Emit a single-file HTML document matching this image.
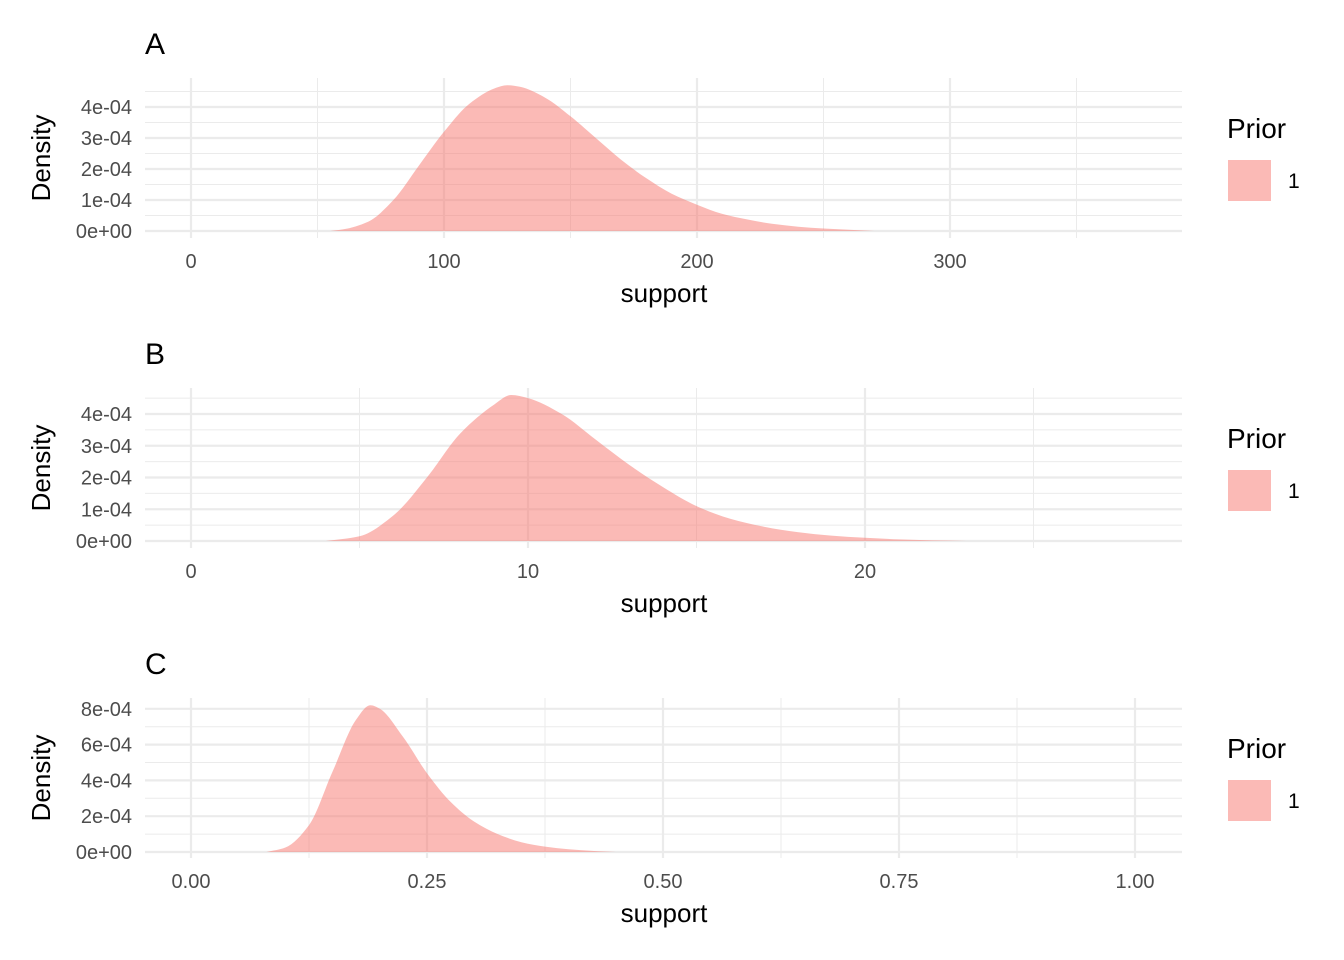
<!DOCTYPE html>
<html><head><meta charset="utf-8"><style>
html,body{margin:0;padding:0;background:#fff;}
svg{display:block;font-family:"Liberation Sans",Arial,sans-serif;}
</style></head><body>
<svg id="chart" width="1344" height="960" viewBox="0 0 1344 960"></svg>
<script>
// Panel A data
const aX = [55,60,70,80,90,100,110,120,125,130,140,150,160,170,180,190,200,210,220,230,240,250,260,270];
const aY = [0,0.05,0.3,1.0,2.1,3.2,4.1,4.6,4.7,4.65,4.3,3.7,3.0,2.3,1.7,1.2,0.85,0.55,0.37,0.23,0.14,0.08,0.04,0];
const aXTicks = [0,100,200,300];
const aXLabels = ["0","100","200","300"];
const aYTicks = [0,1,2,3,4];
const aYLabels = ["0e+00","1e-04","2e-04","3e-04","4e-04"];
// Panel B data
const bX = [4,5,6,7,8,9,9.5,10,11,12,13,14,15,16,17,18,19,20,21,22,23];
const bY = [0,0.15,0.8,2.0,3.4,4.3,4.6,4.5,4.0,3.2,2.4,1.7,1.1,0.7,0.45,0.28,0.17,0.1,0.05,0.02,0];
const bXTicks = [0,10,20];
const bXLabels = ["0","10","20"];
const bYTicks = [0,1,2,3,4];
const bYLabels = ["0e+00","1e-04","2e-04","3e-04","4e-04"];
// Panel C data
const cX = [0.08,0.1,0.125,0.15,0.175,0.19,0.2,0.225,0.25,0.275,0.3,0.325,0.35,0.375,0.4,0.425,0.45];
const cY = [0,0.25,1.5,4.5,7.4,8.2,8.0,6.4,4.4,2.8,1.7,1.0,0.55,0.3,0.15,0.06,0];
const cXTicks = [0,0.25,0.5,0.75,1.0];
const cXLabels = ["0.00","0.25","0.50","0.75","1.00"];
const cYTicks = [0,2,4,6,8];
const cYLabels = ["0e+00","2e-04","4e-04","6e-04","8e-04"];

const NS="http://www.w3.org/2000/svg";
const svg=document.getElementById('chart');
function mk(tag,attrs,parent){const e=document.createElementNS(NS,tag);for(const k in attrs)e.setAttribute(k,attrs[k]);(parent||svg).appendChild(e);return e;}

function monotonePath(px,py){
 const n=px.length, m=new Array(n), dl=[];
 for(let i=0;i<n-1;i++)dl.push((py[i+1]-py[i])/(px[i+1]-px[i]));
 m[0]=dl[0]; m[n-1]=dl[n-2];
 for(let i=1;i<n-1;i++){ if(dl[i-1]*dl[i]<=0)m[i]=0; else m[i]=2/(1/dl[i-1]+1/dl[i]); }
 let d='';
 for(let i=0;i<n-1;i++){
  const h=px[i+1]-px[i];
  d+=' C'+(px[i]+h/3).toFixed(1)+','+(py[i]+m[i]*h/3).toFixed(1)+' '+(px[i+1]-h/3).toFixed(1)+','+(py[i+1]-m[i+1]*h/3).toFixed(1)+' '+px[i+1].toFixed(1)+','+py[i+1].toFixed(1);
 }
 return d;
}

const panels=[
 {t:"A",xs:aX,ys:aY,xt:aXTicks,xl:aXLabels,yt:aYTicks,yl:aYLabels,x0:191,xPer:2.53,y0:231,yPer:31,top:78,bot:238,minorX:50,minorY:0.5},
 {t:"B",xs:bX,ys:bY,xt:bXTicks,xl:bXLabels,yt:bYTicks,yl:bYLabels,x0:191,xPer:33.7,y0:541,yPer:31.75,top:388,bot:548,minorX:5,minorY:0.5},
 {t:"C",xs:cX,ys:cY,xt:cXTicks,xl:cXLabels,yt:cYTicks,yl:cYLabels,x0:191,xPer:944,y0:852,yPer:17.9,top:698,bot:858,minorX:0.125,minorY:1}
];
const L=145,R=1182;
panels.forEach((p,i)=>{
 const g=mk('g',{});
 
 
 const X=v=>p.x0+v*p.xPer, Y=v=>p.y0-v*p.yPer;
 const xmax=(R-p.x0)/p.xPer, xmin=(L-p.x0)/p.xPer;
 for(let v=Math.ceil(xmin/p.minorX)*p.minorX; v<=xmax; v+=p.minorX){
   const l=mk('line',{x1:X(v),x2:X(v),y1:p.top,y2:p.bot,stroke:'#ebebeb','stroke-width':1},g);
   
   
 }
 const ymax=(p.y0-p.top)/p.yPer;
 for(let v=p.minorY*Math.floor(-(p.bot-p.y0)/p.yPer/p.minorY); v<=ymax; v+=p.minorY){
   if(Y(v)>p.bot)continue;
   const l=mk('line',{x1:L,x2:R,y1:Y(v),y2:Y(v),stroke:'#ebebeb','stroke-width':1},g);
   
   
 }
 p.xt.forEach((v,j)=>{
   const l=mk('line',{x1:X(v),x2:X(v),y1:p.top,y2:p.bot,stroke:'#ebebeb','stroke-width':2.2},g);
   
   
   const t=mk('text',{x:X(v),y:p.bot+30,'text-anchor':'middle','font-size':20,fill:'#4d4d4d'},g);
   t.textContent=p.xl[j];
   
   
 });
 p.yt.forEach((v,j)=>{
   const l=mk('line',{x1:L,x2:R,y1:Y(v),y2:Y(v),stroke:'#ebebeb','stroke-width':2.2},g);
   
   
   const t=mk('text',{x:132,y:Y(v)+7,'text-anchor':'end','font-size':20,fill:'#4d4d4d'},g);
   t.textContent=p.yl[j];
   
   
 });
 const px=p.xs.map(X), py=p.ys.map(Y);
 let d='M'+px[0].toFixed(1)+','+Y(0)+monotonePath(px,py)+' L'+px[px.length-1].toFixed(1)+','+Y(0)+' Z';
 const a=mk('path',{d:d,fill:'#F8766D','fill-opacity':0.5,stroke:'none'},g);
 
 
 const tt=mk('text',{x:145,y:p.top-24,'font-size':30,fill:'#000'},g);
 tt.textContent=p.t;
 
 
 const xl=mk('text',{x:664,y:p.bot+64,'text-anchor':'middle','font-size':26,fill:'#000'},g);
 xl.textContent='support';
 
 
 const cy=(p.top+p.bot)/2;
 const yl=mk('text',{x:50,y:cy,'text-anchor':'middle','font-size':26,fill:'#000',transform:'rotate(-90 50 '+cy+')'},g);
 yl.textContent='Density';
 
 
 const lt=mk('text',{x:1227,y:cy-20,'font-size':28,fill:'#000'},g);
 lt.textContent='Prior';
 
 
 const lk=mk('rect',{x:1228,y:cy+2,width:43,height:41,fill:'#F8766D','fill-opacity':0.5},g);
 
 
 const ll=mk('text',{x:1288,y:cy+30,'font-size':21,fill:'#000'},g);
 ll.textContent='1';
 
 
});
</script>
</body></html>
